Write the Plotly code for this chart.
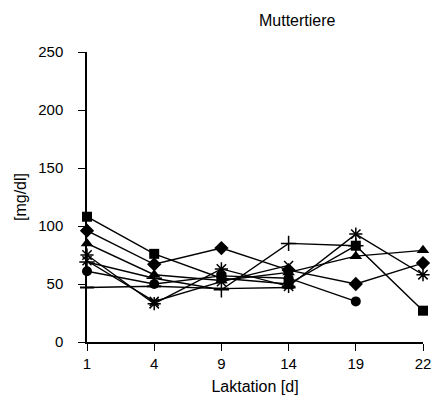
import plotly.graph_objects as go

days = ["1", "4", "9", "14", "19", "22"]

s_diamond = [96, 67, 81, 62, 50, 68]
s_square = [108, 76, 55, 50, 83, 27]
s_triangle = [85, 58, 53, 60, 74, 79]
s_x = [75, 33, 63, 48, 93, 58]
s_star = [70, 35, 52, 66, None, None]
s_circle = [61, 50, 57, 55, 35, None]
s_plus = [69, 55, 45, 85, 83, None]
s_dash = [47, 48, 46, 47, None, None]

series = [
    (s_diamond, "diamond", 11, None),
    (s_square, "square", 10, None),
    (s_triangle, "triangle-up", 11, None),
    (s_x, "asterisk-open", 11, 1.5),
    (s_star, "x-thin-open", 9, 1.5),
    (s_circle, "circle", 10, None),
    (s_plus, "cross-thin-open", 11, 1.5),
    (s_dash, "line-ew-open", 10, 2),
]

fig = go.Figure()
for vals, sym, size, lw in series:
    marker = dict(symbol=sym, size=size, color="black")
    if lw:
        marker["line"] = dict(color="black", width=lw)
    fig.add_trace(go.Scatter(
        x=days, y=vals, mode="lines+markers",
        line=dict(color="black", width=1.4),
        marker=marker, showlegend=False, connectgaps=False,
        cliponaxis=False,
    ))

font = "Liberation Sans, Arial, sans-serif"
fig.update_layout(
    width=443, height=409,
    margin=dict(l=87, r=12, t=52, b=67),
    paper_bgcolor="white", plot_bgcolor="white",
    font=dict(family=font, size=15, color="black"),
    annotations=[dict(text="Muttertiere", x=(302 - 87) / 344, y=1 + 32 / 290,
                      xref="paper", yref="paper", showarrow=False,
                      font=dict(size=16), xanchor="center", yanchor="middle")],
    xaxis=dict(type="category", range=[0, 5], showline=True, linecolor="black",
               linewidth=1.5, ticks="outside", ticklen=7, tickcolor="black",
               showgrid=False, zeroline=False,
               title=dict(text="Laktation [d]", standoff=10, font=dict(size=16))),
    yaxis=dict(range=[0, 250], tickvals=[0, 50, 100, 150, 200, 250],
               showline=True, linecolor="black", linewidth=1.5,
               ticks="outside", ticklen=7, tickcolor="black",
               ticklabelstandoff=12,
               showgrid=False, zeroline=False,
               title=dict(text="[mg/dl]", standoff=8, font=dict(size=16))),
)

fig.write_html("out.html")
